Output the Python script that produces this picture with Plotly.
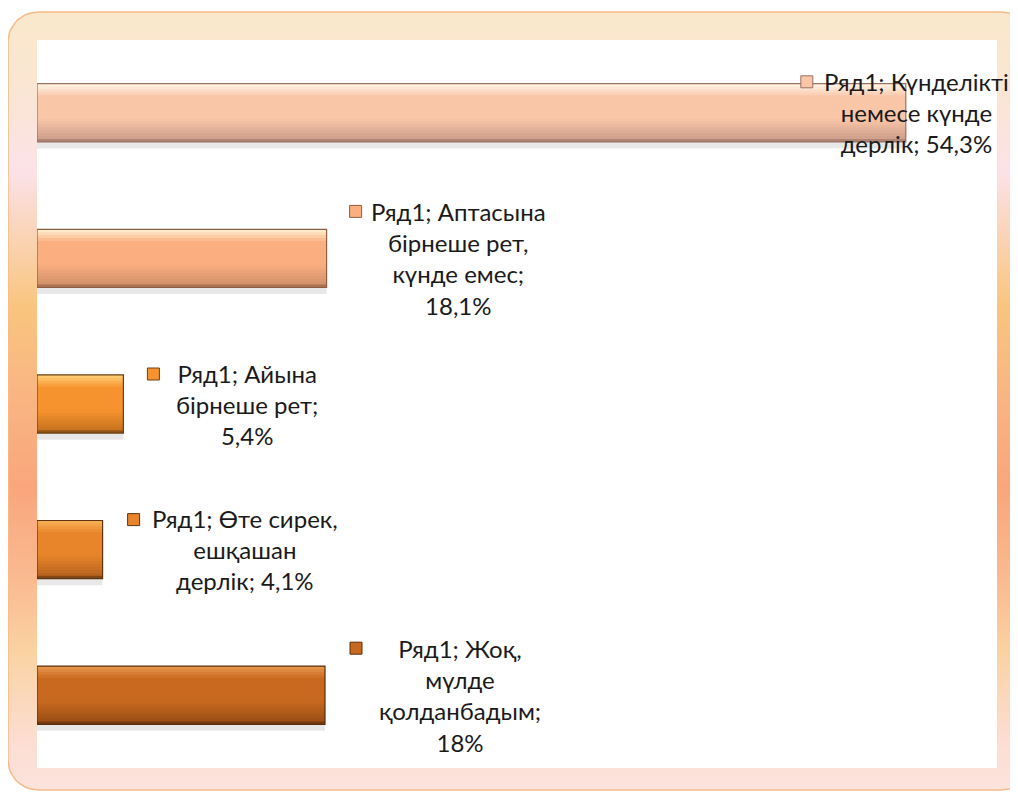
import numpy as np
import plotly.graph_objects as go

# ---------------- data ----------------
series_name = "Ряд1"
categories = [
    "Күнделікті немесе күнде дерлік",
    "Аптасына бірнеше рет, күнде емес",
    "Айына бірнеше рет",
    "Өте сирек, ешқашан дерлік",
    "Жоқ, мүлде қолданбадым",
]
values = [54.3, 18.1, 5.4, 4.1, 18.0]
label_lines = [
    ["Ряд1; Күнделікті", "немесе күнде", "дерлік; {v}%"],
    ["Ряд1; Аптасына", "бірнеше рет,", "күнде емес;", "{v}%"],
    ["Ряд1; Айына", "бірнеше рет;", "{v}%"],
    ["Ряд1; Өте сирек,", "ешқашан", "дерлік; {v}%"],
    ["Ряд1; Жоқ,", "мүлде", "қолданбадым;", "{v}%"],
]

# ---------------- styles ----------------
OFF = 8                      # page body margin compensation
W, H = 1018 - OFF, 792 - OFF
bar_top = ["#FFF6EA", "#FFF3D6", "#FFD27A", "#F8B158", "#E99A50"]
bar_mid = ["#FAC6A8", "#FBAE7F", "#F7932F", "#E8842A", "#C9691F"]
bar_bot = ["#CFA08C", "#D3916A", "#C9741F", "#B8641E", "#9C4F16"]
bar_edge = ["#9A7262", "#8E5E42", "#6E3F12", "#5E3410", "#5A2E0C"]
label_dx = [11, 132, 124, 142, 135]
square_dx = [-99, 29, 30, 31, 31]
square_dy = [31, 47, 30, 30, 47]

plot_l, plot_r, plot_t, plot_b = 37 - OFF, 997 - OFF, 40 - OFF, 768 - OFF


def hex2rgb(h):
    h = h.lstrip("#")
    return np.array([int(h[i:i + 2], 16) for i in (0, 2, 4)], dtype=float)


def mix(a, b, t):
    c = hex2rgb(a) * (1 - t) + hex2rgb(b) * t
    return "rgb(%d,%d,%d)" % tuple(np.round(c).astype(int))


def rounded_rect(x0, y0, x1, y1, r, n=12):
    xs, ys = [], []
    corners = [(x1 - r, y0 + r, -90, 0), (x1 - r, y1 - r, 0, 90),
               (x0 + r, y1 - r, 90, 180), (x0 + r, y0 + r, 180, 270)]
    for cx, cy, a0, a1 in corners:
        for a in np.linspace(np.radians(a0), np.radians(a1), n):
            xs.append(cx + r * np.cos(a))
            ys.append(cy + r * np.sin(a))
    xs.append(xs[0]); ys.append(ys[0])
    return xs, ys


fig = go.Figure()

# ---------------- frame decoration (pixel axes x/y) ----------------
fx, fy = rounded_rect(8 - OFF, 12 - OFF, 1032 - OFF, 790 - OFF, 30)
frame_scale = [
    [0.0, "#FAE8CB"], [0.10, "#FAE6D2"], [0.21, "#FCE2E8"], [0.30, "#FAD2B0"],
    [0.38, "#F9C57E"], [0.50, "#F9B482"], [0.61, "#F9A67C"], [0.72, "#FAB88E"],
    [0.82, "#FAD2A2"], [0.94, "#FCDED4"], [1.0, "#FCE3DD"],
]
fig.add_trace(go.Scatter(
    x=fx, y=fy, mode="lines", fill="toself",
    line=dict(color="#F8BA88", width=1.5),
    fillgradient=dict(type="vertical", colorscale=frame_scale, start=0, stop=H),
    hoverinfo="skip", showlegend=False, xaxis="x", yaxis="y",
))
fig.add_trace(go.Scatter(
    x=[plot_l, plot_r, plot_r, plot_l, plot_l],
    y=[plot_t, plot_t, plot_b, plot_b, plot_t],
    mode="lines", fill="toself", fillcolor="white", line=dict(width=0),
    hoverinfo="skip", showlegend=False, xaxis="x", yaxis="y",
))

# ---------------- bars (data axes x2/y2) ----------------
bw = 0.4
fig.add_trace(go.Bar(
    x=values, y=categories, orientation="h", width=bw, offset=-bw / 2 + 0.045,
    marker=dict(color="rgba(0,0,0,0.09)", line=dict(width=0)),
    hoverinfo="skip", showlegend=False, xaxis="x2", yaxis="y2",
))

n_strips = 20
sw = bw / n_strips
for i in range(n_strips):
    f = (i + 0.5) / n_strips
    cols = []
    for k in range(len(values)):
        if f < 0.22:
            c = mix(bar_top[k], bar_mid[k], f / 0.22)
        elif f < 0.6:
            c = mix(bar_mid[k], bar_mid[k], 0)
        elif f < 0.94:
            c = mix(bar_mid[k], bar_bot[k], (f - 0.6) / 0.34)
        else:
            c = mix(bar_bot[k], bar_edge[k], 0.6)
        cols.append(c)
    fig.add_trace(go.Bar(
        x=values, y=categories, orientation="h",
        width=bw - i * sw, offset=-bw / 2 + i * sw,
        marker=dict(color=cols, line=dict(width=0)),
        hoverinfo="skip", showlegend=False, xaxis="x2", yaxis="y2",
    ))
fig.add_trace(go.Bar(
    x=values, y=categories, orientation="h", width=bw, offset=-bw / 2,
    marker=dict(color="rgba(0,0,0,0)", line=dict(color=bar_edge, width=1.2)),
    name=series_name, showlegend=False, xaxis="x2", yaxis="y2",
))

# ---------------- labels ----------------
annotations = []
shapes = []
for k, (cat, v) in enumerate(zip(categories, values)):
    vtxt = ("%g" % v).replace(".", ",")
    text = "<br>".join(line.format(v=vtxt) for line in label_lines[k])
    annotations.append(dict(
        x=v, y=cat, xref="x2", yref="y2", text=text, showarrow=False,
        xanchor="center", yanchor="middle", align="center", xshift=label_dx[k],
        font=dict(family="Lato, 'Open Sans', sans-serif", size=24, color="#1A1A1A"),
    ))
    s = 6
    shapes.append(dict(
        type="rect", xref="x2", yref="y2", xsizemode="pixel", ysizemode="pixel",
        xanchor=v, yanchor=cat,
        x0=square_dx[k] - s, x1=square_dx[k] + s,
        y0=square_dy[k] - s, y1=square_dy[k] + s,
        fillcolor=bar_mid[k], line=dict(color=bar_edge[k], width=1),
    ))

fig.update_layout(
    width=W, height=H,
    margin=dict(l=0, r=0, t=0, b=0),
    paper_bgcolor="white", plot_bgcolor="rgba(0,0,0,0)",
    barmode="overlay", showlegend=False,
    xaxis=dict(domain=[0, 1], range=[0, W], visible=False, fixedrange=True),
    yaxis=dict(domain=[0, 1], range=[H, 0], visible=False, fixedrange=True),
    xaxis2=dict(domain=[plot_l / W, plot_r / W], range=[0, 60], anchor="y2",
                visible=False, fixedrange=True),
    yaxis2=dict(domain=[(H - plot_b) / H, (H - plot_t) / H], anchor="x2",
                type="category", categoryorder="array", categoryarray=categories,
                autorange="reversed", visible=False, fixedrange=True),
    annotations=annotations, shapes=shapes,
)

fig.write_html("out.html")
